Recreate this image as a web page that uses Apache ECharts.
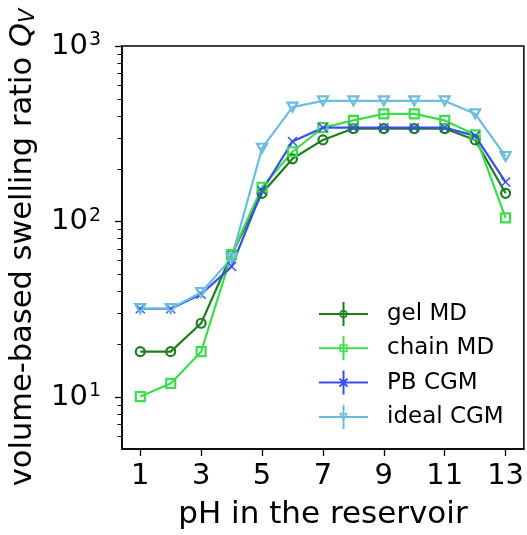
<!DOCTYPE html>
<html><head><meta charset="utf-8">
<script src="https://cdn.jsdelivr.net/npm/echarts@6/dist/echarts.min.js"></script>
<style>html,body{margin:0;padding:0;background:#fff}#c{width:527px;height:535px}</style>
</head><body><div id="c"></div>
<script>
const pH = [1,2,3,4,5,6,7,8,9,10,11,12,13];
const gelMD = [18.2,18.2,26.4,65,145,228,292,339,339,339,339,292,145];
const chainMD = [10.1,12.0,18.2,65,157,250,343,377,411,411,377,312,105];
const pbCGM = [31.9,31.9,38.6,55.5,150,286,343,343,343,343,343,308,168];
const idealCGM = [32,32,39.5,62,262,449,487,487,487,487,487,411,235];
const seriesNames = ['gel MD','chain MD','PB CGM','ideal CGM'];
const xTicks = [1,3,5,7,9,11,13];
const yTicks = [10,100,1000];
const yMinorTicks = [6,7,8,9,20,30,40,50,60,70,80,90,200,300,400,500,600,700,800,900];

const FONT = 'DejaVu Sans';
const colors = ['#1e7d1e','#3ddc4c','#3a4df5','#6bbde0'];

// legend icon paths (49x24 box): horizontal line + vertical error bar + hollow marker
const bars = 'M0,11 H49 V13 H0 Z M23.5,0 H25.5 V24 H23.5 Z ';
const icons = [
  bars + 'M20.5,12 A4,4 0 1,1 28.5,12 A4,4 0 1,1 20.5,12 Z M22,12 A2.5,2.5 0 1,0 27,12 A2.5,2.5 0 1,0 22,12 Z',
  bars + 'M20.5,8 H28.5 V16 H20.5 Z M22,9.5 V14.5 H27 V9.5 Z',
  bars + 'M21.2,7.3 L29.2,15.3 L27.8,16.7 L19.8,8.7 Z M27.8,7.3 L29.2,8.7 L21.2,16.7 L19.8,15.3 Z',
  bars + 'M20,8 L29,8 L24.5,16.5 Z M22.3,9.4 L24.5,13.6 L26.7,9.4 Z'
];

function mk(name, vals, color, symbol, size, filled) {
  return {
    type: 'line', name: name,
    data: pH.map((x, i) => [x, vals[i]]),
    symbol: symbol, symbolSize: size, showAllSymbol: true,
    lineStyle: { color: color, width: 2.2 },
    itemStyle: filled ? { color: color, borderWidth: 0 }
                      : { color: 'rgba(0,0,0,0)', borderColor: color, borderWidth: 2.2 },
    emphasis: { disabled: true },
    animation: false
  };
}

const chart = echarts.init(document.getElementById('c'));
chart.setOption({
  animation: false,
  backgroundColor: '#fff',
  grid: { left: 121, right: 1, top: 46, bottom: 86, show: true, borderColor: '#000', borderWidth: 1.5, backgroundColor: 'transparent' },
  legend: {
    left: 314, top: 297, orient: 'vertical',
    itemWidth: 49, itemHeight: 24, itemGap: 10.3,
    textStyle: { fontFamily: FONT, fontSize: 23, color: '#000', padding: [0, 0, 0, 14] },
    data: seriesNames.map((n, i) => ({ name: n, icon: 'path://' + icons[i], itemStyle: { color: colors[i], borderWidth: 0, opacity: 1 } }))
  },
  xAxis: {
    type: 'value', min: 0.4, max: 13.6,
    name: 'pH in the reservoir', nameLocation: 'middle', nameGap: 50,
    nameTextStyle: { fontFamily: FONT, fontSize: 31, color: '#000' },
    axisLine: { show: true, lineStyle: { color: '#000', width: 1.5 } },
    axisTick: { show: true, customValues: xTicks, length: 7, lineStyle: { color: '#000', width: 1.3 } },
    axisLabel: { customValues: xTicks, margin: 13, fontFamily: FONT, fontSize: 29, color: '#000' },
    splitLine: { show: false }
  },
  yAxis: [{
    type: 'log', min: 5.08, max: 1000, position: 'left',
    name: '{n|volume-based swelling ratio }{q|Q}{s|V}', nameLocation: 'middle', nameGap: 83,
    nameTextStyle: { fontFamily: FONT, fontSize: 30.5, color: '#000',
      rich: { n: { fontFamily: FONT, fontSize: 30.5, color: '#000' },
              q: { fontFamily: FONT, fontSize: 30.5, fontStyle: 'italic', color: '#000' },
              s: { fontFamily: FONT, fontSize: 21, fontStyle: 'italic', color: '#000', verticalAlign: 'bottom', padding: [9, 0, 0, 0] } } },
    axisLine: { show: true, lineStyle: { color: '#000', width: 1.5 } },
    axisTick: { show: true, customValues: yTicks, length: 7, lineStyle: { color: '#000', width: 1.3 } },
    axisLabel: { customValues: yTicks, margin: 21, color: '#000',
      formatter: v => '{b|10}{p|' + Math.round(Math.log10(v)) + '}',
      rich: { b: { fontFamily: FONT, fontSize: 29, color: '#000' },
              p: { fontFamily: FONT, fontSize: 19, color: '#000', verticalAlign: 'top', padding: [0, 0, 12, 1] } } },
    splitLine: { show: false }
  }, {
    type: 'log', min: 5.08, max: 1000, position: 'left', offset: 0,
    axisLine: { show: false },
    axisTick: { show: true, customValues: yMinorTicks, length: 4.5, lineStyle: { color: '#000', width: 1 } },
    axisLabel: { show: false },
    splitLine: { show: false }
  }],
  series: [
    mk(seriesNames[0], gelMD, colors[0], 'circle', 9, false),
    mk(seriesNames[1], chainMD, colors[1], 'rect', 9, false),
    mk(seriesNames[2], pbCGM, colors[2], 'path://M1,0 L5,4 L9,0 L10,1 L6,5 L10,9 L9,10 L5,6 L1,10 L0,9 L4,5 L0,1 Z', 10, true),
    mk(seriesNames[3], idealCGM, colors[3], 'path://M0,0 L10,0 L5,9 Z', [10, 9], false)
  ]
});
</script>
</body></html>
